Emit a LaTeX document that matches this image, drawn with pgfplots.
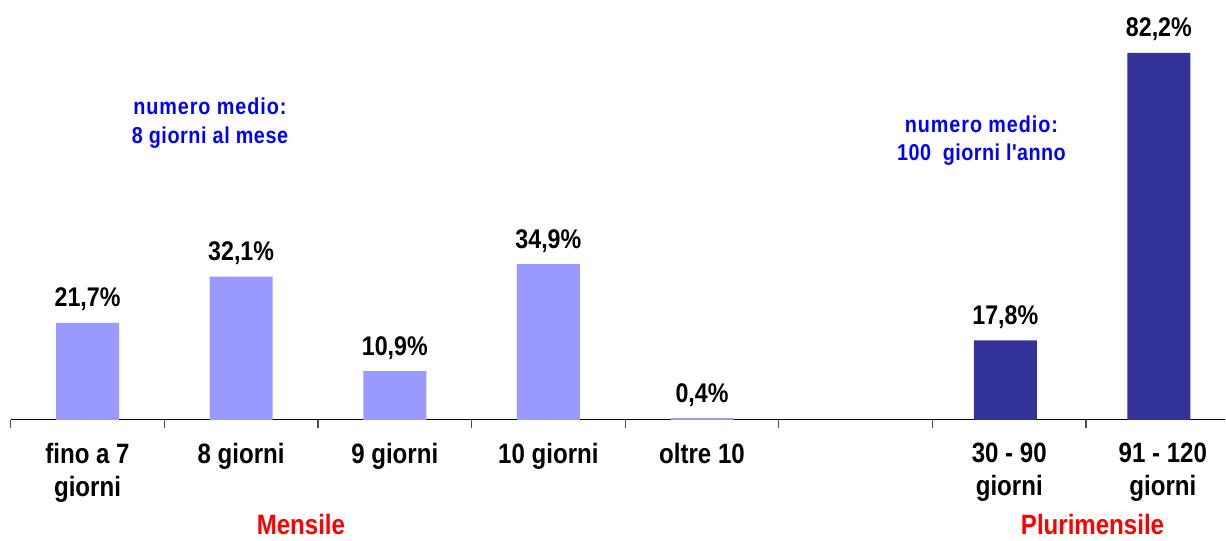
\documentclass[border=0pt]{standalone}
\usepackage{pgfplots}
\pgfplotsset{compat=1.18}
\usepackage{fontspec}
\setmainfont{Liberation Sans}[FakeStretch=0.86]
\newfontfamily\blueleft{Liberation Sans}[FakeStretch=0.86, LetterSpace=4]
\newfontfamily\blueright{Liberation Sans}[FakeStretch=0.86, LetterSpace=2]
\definecolor{lightbar}{HTML}{9999FF}
\definecolor{darkbar}{HTML}{333399}
\definecolor{bluetxt}{HTML}{0000FF}
\definecolor{redtxt}{HTML}{FF0000}
\begin{document}
\begin{tikzpicture}
\begin{axis}[name=ax, scale only axis,
  x=76.85pt, y=2.2325pt, xmin=-0.5, xmax=7.407, ymin=0, ymax=94.07,
  axis x line*=bottom, axis y line=none, clip=false,
  x axis line style={line width=0.6pt, black},
  xtick={0,1,2,3,4,6,7},
  xticklabels={fino a 7\\giorni, 8 giorni, 9 giorni, 10 giorni, oltre 10, 30 - 90\\giorni, 91 - 120\\giorni},
  xticklabel style={align=center, font=\fontsize{14}{16.8}\selectfont\bfseries, anchor=north, yshift=-8pt},
  major tick length=0pt,
  minor xtick={-0.5,0.5,...,7.5},
  minor tick length=4pt, tick align=outside,
  minor tick style={line width=0.6pt, black!70},
  ybar, bar width=0.41,
  /pgf/number format/assume math mode=true,
  nodes near coords={\pgfmathprintnumber[use comma, fixed, fixed zerofill, precision=1]{\pgfplotspointmeta}\%},
  point meta=y,
  nodes near coords style={font=\fontsize{13.5}{16}\selectfont\bfseries, anchor=base, yshift=8pt, black},
]
\addplot[fill=lightbar, draw=none, bar shift=0pt] coordinates {(0,21.7) (1,32.1) (2,10.9) (3,34.9) (4,0.4)};
\addplot[fill=darkbar, draw=none, bar shift=-2pt] coordinates {(6,17.8) (7,82.2)};
\node[anchor=base, font=\fontsize{11.5}{14}\blueleft\bfseries, text=bluetxt] at (axis cs:0.797,68.3) {numero medio:};
\node[anchor=base, font=\fontsize{11.5}{14}\selectfont\bfseries, text=bluetxt] at (axis cs:0.797,62.0) {\blueleft\addfontfeature{LetterSpace=2.5}8 giorni al mese};
\node[anchor=base, font=\fontsize{11.5}{14}\blueleft\bfseries, text=bluetxt] at (axis cs:5.819,64.3) {numero medio:};
\node[anchor=base, font=\fontsize{11.5}{14}\blueright\bfseries, text=bluetxt] at (axis cs:5.819,58.2) {100\ \ giorni l'anno};
\node[anchor=base, font=\fontsize{14}{16}\selectfont\bfseries, text=redtxt] at (axis cs:1.389,-25.6) {Mensile};
\node[anchor=base, font=\fontsize{14}{16}\selectfont\bfseries, text=redtxt] at (axis cs:6.542,-25.6) {Plurimensile};
\end{axis}
\path[use as bounding box] ([xshift=-5.35pt,yshift=-58pt]ax.south west) rectangle (ax.north east);
\end{tikzpicture}
\end{document}
